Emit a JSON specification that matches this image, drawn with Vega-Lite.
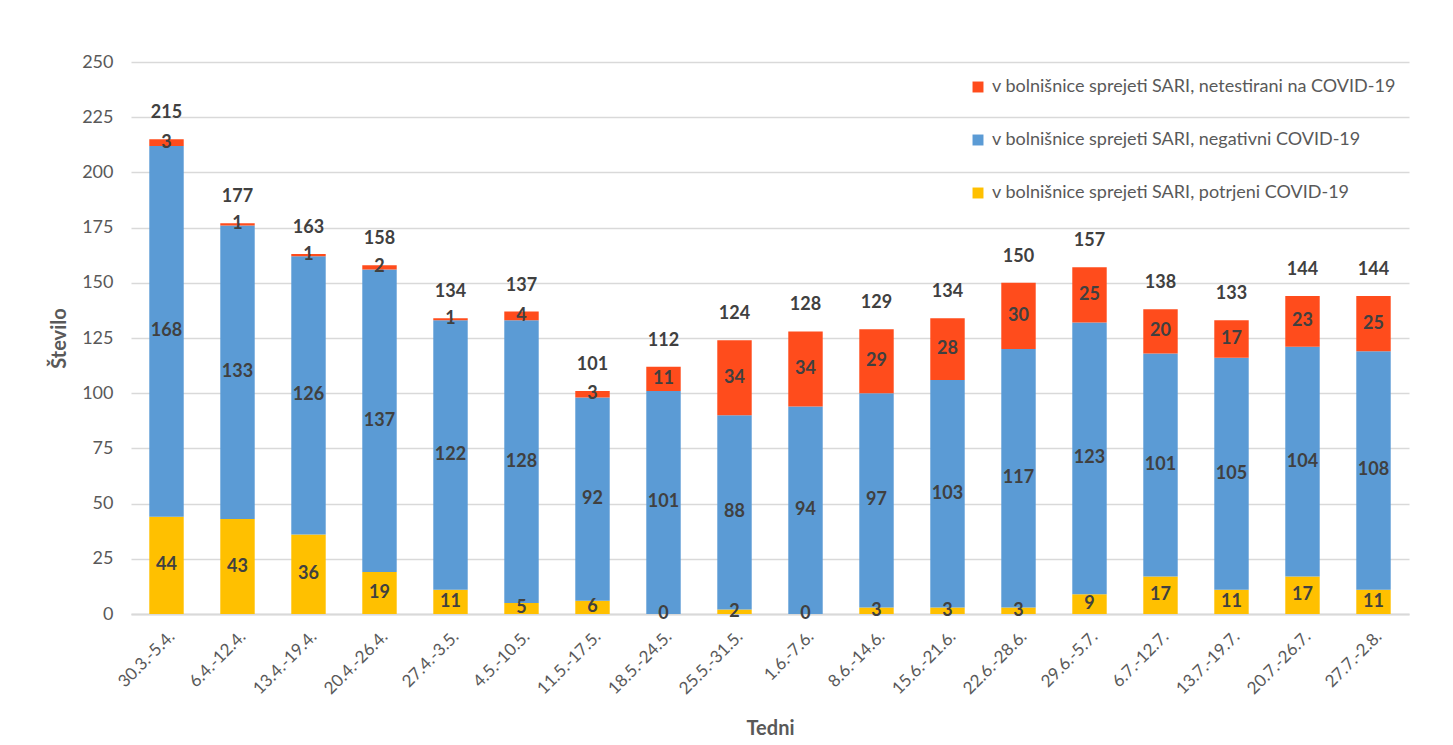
{
  "$schema": "https://vega.github.io/schema/vega-lite/v6.json",
  "width": 1278,
  "height": 552,
  "autosize": {"type": "none"},
  "padding": {"left": 131, "top": 62, "right": 44, "bottom": 131},
  "background": "white",
  "config": {"view": {"stroke": null}, "font": "Lato"},
  "datasets": {
    "d": [
      {"week": "30.3.-5.4.", "series": "v bolnišnice sprejeti SARI, potrjeni COVID-19", "k": 1, "value": 44},
      {"week": "30.3.-5.4.", "series": "v bolnišnice sprejeti SARI, negativni COVID-19", "k": 2, "value": 168},
      {"week": "30.3.-5.4.", "series": "v bolnišnice sprejeti SARI, netestirani na COVID-19", "k": 3, "value": 3},
      {"week": "6.4.-12.4.", "series": "v bolnišnice sprejeti SARI, potrjeni COVID-19", "k": 1, "value": 43},
      {"week": "6.4.-12.4.", "series": "v bolnišnice sprejeti SARI, negativni COVID-19", "k": 2, "value": 133},
      {"week": "6.4.-12.4.", "series": "v bolnišnice sprejeti SARI, netestirani na COVID-19", "k": 3, "value": 1},
      {"week": "13.4.-19.4.", "series": "v bolnišnice sprejeti SARI, potrjeni COVID-19", "k": 1, "value": 36},
      {"week": "13.4.-19.4.", "series": "v bolnišnice sprejeti SARI, negativni COVID-19", "k": 2, "value": 126},
      {"week": "13.4.-19.4.", "series": "v bolnišnice sprejeti SARI, netestirani na COVID-19", "k": 3, "value": 1},
      {"week": "20.4.-26.4.", "series": "v bolnišnice sprejeti SARI, potrjeni COVID-19", "k": 1, "value": 19},
      {"week": "20.4.-26.4.", "series": "v bolnišnice sprejeti SARI, negativni COVID-19", "k": 2, "value": 137},
      {"week": "20.4.-26.4.", "series": "v bolnišnice sprejeti SARI, netestirani na COVID-19", "k": 3, "value": 2},
      {"week": "27.4.-3.5.", "series": "v bolnišnice sprejeti SARI, potrjeni COVID-19", "k": 1, "value": 11},
      {"week": "27.4.-3.5.", "series": "v bolnišnice sprejeti SARI, negativni COVID-19", "k": 2, "value": 122},
      {"week": "27.4.-3.5.", "series": "v bolnišnice sprejeti SARI, netestirani na COVID-19", "k": 3, "value": 1},
      {"week": "4.5.-10.5.", "series": "v bolnišnice sprejeti SARI, potrjeni COVID-19", "k": 1, "value": 5},
      {"week": "4.5.-10.5.", "series": "v bolnišnice sprejeti SARI, negativni COVID-19", "k": 2, "value": 128},
      {"week": "4.5.-10.5.", "series": "v bolnišnice sprejeti SARI, netestirani na COVID-19", "k": 3, "value": 4},
      {"week": "11.5.-17.5.", "series": "v bolnišnice sprejeti SARI, potrjeni COVID-19", "k": 1, "value": 6},
      {"week": "11.5.-17.5.", "series": "v bolnišnice sprejeti SARI, negativni COVID-19", "k": 2, "value": 92},
      {"week": "11.5.-17.5.", "series": "v bolnišnice sprejeti SARI, netestirani na COVID-19", "k": 3, "value": 3},
      {"week": "18.5.-24.5.", "series": "v bolnišnice sprejeti SARI, potrjeni COVID-19", "k": 1, "value": 0},
      {"week": "18.5.-24.5.", "series": "v bolnišnice sprejeti SARI, negativni COVID-19", "k": 2, "value": 101},
      {"week": "18.5.-24.5.", "series": "v bolnišnice sprejeti SARI, netestirani na COVID-19", "k": 3, "value": 11},
      {"week": "25.5.-31.5.", "series": "v bolnišnice sprejeti SARI, potrjeni COVID-19", "k": 1, "value": 2},
      {"week": "25.5.-31.5.", "series": "v bolnišnice sprejeti SARI, negativni COVID-19", "k": 2, "value": 88},
      {"week": "25.5.-31.5.", "series": "v bolnišnice sprejeti SARI, netestirani na COVID-19", "k": 3, "value": 34},
      {"week": "1.6.-7.6.", "series": "v bolnišnice sprejeti SARI, potrjeni COVID-19", "k": 1, "value": 0},
      {"week": "1.6.-7.6.", "series": "v bolnišnice sprejeti SARI, negativni COVID-19", "k": 2, "value": 94},
      {"week": "1.6.-7.6.", "series": "v bolnišnice sprejeti SARI, netestirani na COVID-19", "k": 3, "value": 34},
      {"week": "8.6.-14.6.", "series": "v bolnišnice sprejeti SARI, potrjeni COVID-19", "k": 1, "value": 3},
      {"week": "8.6.-14.6.", "series": "v bolnišnice sprejeti SARI, negativni COVID-19", "k": 2, "value": 97},
      {"week": "8.6.-14.6.", "series": "v bolnišnice sprejeti SARI, netestirani na COVID-19", "k": 3, "value": 29},
      {"week": "15.6.-21.6.", "series": "v bolnišnice sprejeti SARI, potrjeni COVID-19", "k": 1, "value": 3},
      {"week": "15.6.-21.6.", "series": "v bolnišnice sprejeti SARI, negativni COVID-19", "k": 2, "value": 103},
      {"week": "15.6.-21.6.", "series": "v bolnišnice sprejeti SARI, netestirani na COVID-19", "k": 3, "value": 28},
      {"week": "22.6.-28.6.", "series": "v bolnišnice sprejeti SARI, potrjeni COVID-19", "k": 1, "value": 3},
      {"week": "22.6.-28.6.", "series": "v bolnišnice sprejeti SARI, negativni COVID-19", "k": 2, "value": 117},
      {"week": "22.6.-28.6.", "series": "v bolnišnice sprejeti SARI, netestirani na COVID-19", "k": 3, "value": 30},
      {"week": "29.6.-5.7.", "series": "v bolnišnice sprejeti SARI, potrjeni COVID-19", "k": 1, "value": 9},
      {"week": "29.6.-5.7.", "series": "v bolnišnice sprejeti SARI, negativni COVID-19", "k": 2, "value": 123},
      {"week": "29.6.-5.7.", "series": "v bolnišnice sprejeti SARI, netestirani na COVID-19", "k": 3, "value": 25},
      {"week": "6.7.-12.7.", "series": "v bolnišnice sprejeti SARI, potrjeni COVID-19", "k": 1, "value": 17},
      {"week": "6.7.-12.7.", "series": "v bolnišnice sprejeti SARI, negativni COVID-19", "k": 2, "value": 101},
      {"week": "6.7.-12.7.", "series": "v bolnišnice sprejeti SARI, netestirani na COVID-19", "k": 3, "value": 20},
      {"week": "13.7.-19.7.", "series": "v bolnišnice sprejeti SARI, potrjeni COVID-19", "k": 1, "value": 11},
      {"week": "13.7.-19.7.", "series": "v bolnišnice sprejeti SARI, negativni COVID-19", "k": 2, "value": 105},
      {"week": "13.7.-19.7.", "series": "v bolnišnice sprejeti SARI, netestirani na COVID-19", "k": 3, "value": 17},
      {"week": "20.7.-26.7.", "series": "v bolnišnice sprejeti SARI, potrjeni COVID-19", "k": 1, "value": 17},
      {"week": "20.7.-26.7.", "series": "v bolnišnice sprejeti SARI, negativni COVID-19", "k": 2, "value": 104},
      {"week": "20.7.-26.7.", "series": "v bolnišnice sprejeti SARI, netestirani na COVID-19", "k": 3, "value": 23},
      {"week": "27.7.-2.8.", "series": "v bolnišnice sprejeti SARI, potrjeni COVID-19", "k": 1, "value": 11},
      {"week": "27.7.-2.8.", "series": "v bolnišnice sprejeti SARI, negativni COVID-19", "k": 2, "value": 108},
      {"week": "27.7.-2.8.", "series": "v bolnišnice sprejeti SARI, netestirani na COVID-19", "k": 3, "value": 25}
    ]
  },
  "data": {"name": "d"},
  "encoding": {
    "x": {
      "field": "week",
      "type": "nominal",
      "sort": null,
      "scale": {"paddingInner": 0.515, "paddingOuter": 0.2575},
      "axis": {
        "title": "Tedni",
        "titleFontSize": 20,
        "titleFontWeight": "bold",
        "titleColor": "#595959",
        "titlePadding": 22,
        "labelAngle": -45,
        "labelFontSize": 17,
        "labelColor": "#595959",
        "labelPadding": 14,
        "ticks": false,
        "domainColor": "#d9d9d9",
        "domainWidth": 2,
        "grid": false
      }
    }
  },
  "layer": [
    {
      "mark": {"type": "bar"},
      "encoding": {
        "y": {
          "field": "value",
          "type": "quantitative",
          "stack": "zero",
          "scale": {"domain": [0, 250], "nice": false},
          "axis": {
            "title": "Število",
            "titleFontSize": 20,
            "titleFontWeight": "bold",
            "titleColor": "#595959",
            "titlePadding": 12,
            "values": [0, 25, 50, 75, 100, 125, 150, 175, 200, 225, 250],
            "labelFontSize": 18,
            "labelColor": "#595959",
            "labelPadding": 18,
            "ticks": false,
            "domain": false,
            "gridColor": "#d9d9d9",
            "gridWidth": 1.5
          }
        },
        "color": {
          "field": "series",
          "type": "nominal",
          "scale": {
            "domain": [
              "v bolnišnice sprejeti SARI, netestirani na COVID-19",
              "v bolnišnice sprejeti SARI, negativni COVID-19",
              "v bolnišnice sprejeti SARI, potrjeni COVID-19"
            ],
            "range": ["#FF4C1C", "#5B9BD5", "#FFC000"]
          },
          "legend": {
            "title": null,
            "orient": "none",
            "legendX": 838,
            "legendY": 16,
            "symbolType": "square",
            "symbolSize": 120,
            "symbolStrokeWidth": 0,
            "labelFontSize": 18,
            "labelColor": "#595959",
            "labelOffset": 5,
            "labelLimit": 600,
            "rowPadding": 35,
            "padding": 0
          }
        },
        "order": {"field": "k", "type": "quantitative"}
      }
    },
    {
      "transform": [
        {"stack": "value", "groupby": ["week"], "sort": [{"field": "k"}], "as": ["y0", "y1"]},
        {"calculate": "(datum.y0 + datum.y1) / 2", "as": "mid"}
      ],
      "mark": {"type": "text", "fontWeight": "bold", "fontSize": 18, "color": "#404040", "baseline": "middle"},
      "encoding": {
        "y": {"field": "mid", "type": "quantitative", "title": "Število"},
        "text": {"field": "value", "type": "quantitative"}
      }
    },
    {
      "mark": {"type": "text", "fontWeight": "bold", "fontSize": 18, "color": "#404040", "baseline": "middle", "dy": -26},
      "encoding": {
        "y": {"aggregate": "sum", "field": "value", "type": "quantitative", "title": "Število"},
        "text": {"aggregate": "sum", "field": "value", "type": "quantitative"}
      }
    }
  ]
}
